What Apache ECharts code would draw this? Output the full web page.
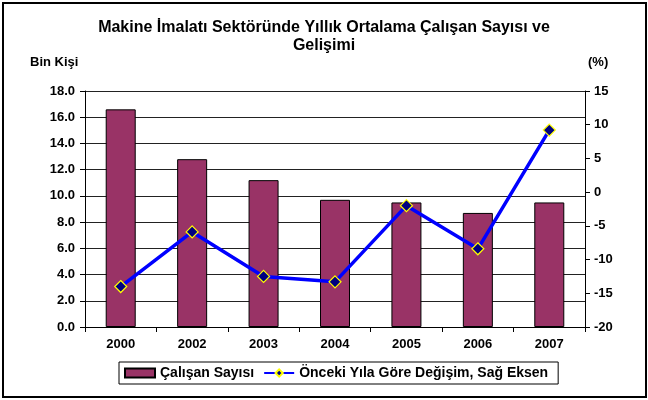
<!DOCTYPE html>
<html>
<head>
<meta charset="utf-8">
<script src="https://cdn.jsdelivr.net/npm/echarts@6/dist/echarts.min.js"></script>
<style>
html,body{margin:0;padding:0;background:#fff;}
#frame{position:absolute;left:2px;top:2px;width:641px;height:392px;border:2px solid #000;}
#chart{position:absolute;left:0;top:0;width:648px;height:400px;}
</style>
</head>
<body>
<div id="frame"></div>
<div id="chart"></div>
<script>
const categories = ['2000', '2002', '2003', '2004', '2005', '2006', '2007'];
const employees = [16.6, 12.8, 11.2, 9.7, 9.5, 8.7, 9.5];
const changePct = [-14.0, -5.9, -12.5, -13.3, -2.0, -8.4, 9.2];
const leftTicks = { min: 0, max: 18, interval: 2 };
const rightTicks = { min: -20, max: 15, interval: 5 };

const font = '"Liberation Sans", Arial, sans-serif';
const chart = echarts.init(document.getElementById('chart'));
chart.setOption({
  animation: false,
  textStyle: { fontFamily: font },
  title: {
    text: 'Makine İmalatı Sektöründe Yıllık Ortalama Çalışan Sayısı ve\nGelişimi',
    left: 'center', top: 14,
    textStyle: { fontSize: 16, fontWeight: 'bold', color: '#000', lineHeight: 18, fontFamily: font }
  },
  graphic: [
    { type: 'text', left: 30, top: 56, style: { text: 'Bin Kişi', font: 'bold 13px ' + font, fill: '#000' } },
    { type: 'text', left: 588, top: 56, style: { text: '(%)', font: 'bold 13px ' + font, fill: '#000' } }
  ],
  grid: { left: 85, right: 63, top: 91, bottom: 73 },
  legend: {
    left: 119, top: 362,
    borderColor: '#000', borderWidth: 1,
    padding: [4, 10, 4, 5],
    itemGap: 9, itemWidth: 30, itemHeight: 9,
    textStyle: { fontSize: 14, fontWeight: 'bold', color: '#000', fontFamily: font },
    data: [
      { name: 'Çalışan Sayısı', icon: 'rect' },
      { name: 'Önceki Yıla Göre Değişim, Sağ Eksen' }
    ]
  },
  xAxis: {
    type: 'category', data: categories,
    axisLine: { lineStyle: { color: '#000', width: 1 } },
    axisTick: { show: true, alignWithLabel: false, length: 5, lineStyle: { color: '#000' } },
    axisLabel: { fontSize: 13, fontWeight: 'bold', color: '#000', margin: 11 }
  },
  yAxis: [
    {
      type: 'value', min: leftTicks.min, max: leftTicks.max, interval: leftTicks.interval,
      axisLine: { show: true, lineStyle: { color: '#000' } },
      axisTick: { show: true, length: 5, lineStyle: { color: '#000' } },
      axisLabel: { fontSize: 13, fontWeight: 'bold', color: '#000', margin: 10, formatter: v => v.toFixed(1) },
      splitLine: { show: true, lineStyle: { color: '#222', width: 1 } }
    },
    {
      type: 'value', min: rightTicks.min, max: rightTicks.max, interval: rightTicks.interval,
      position: 'right',
      axisLine: { show: true, lineStyle: { color: '#000' } },
      axisTick: { show: true, length: 5, lineStyle: { color: '#000' } },
      axisLabel: { fontSize: 13, fontWeight: 'bold', color: '#000', margin: 9 },
      splitLine: { show: false }
    }
  ],
  series: [
    {
      name: 'Çalışan Sayısı', type: 'bar', data: employees, yAxisIndex: 0,
      barWidth: '42%',
      itemStyle: { color: '#993366', borderColor: '#000', borderWidth: 1 }
    },
    {
      name: 'Önceki Yıla Göre Değişim, Sağ Eksen', type: 'line', data: changePct, yAxisIndex: 1,
      symbol: 'diamond', symbolSize: 12,
      lineStyle: { color: '#0000FF', width: 3.5 },
      itemStyle: { color: '#000080', borderColor: '#FFFF00', borderWidth: 1.2 }
    }
  ]
});
</script>
</body>
</html>
